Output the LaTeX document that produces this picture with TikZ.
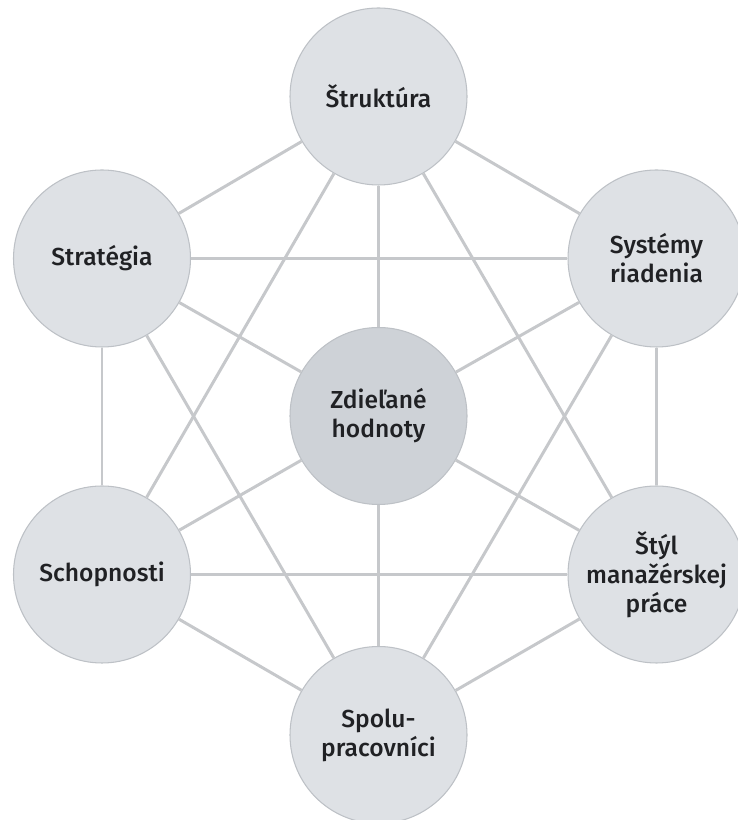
\documentclass[tikz,border=0pt]{standalone}
\usepackage{fontspec}
\setmainfont{Fira Sans Medium}
\definecolor{circfill}{HTML}{DEE1E5}
\definecolor{corefill}{HTML}{CED2D7}
\definecolor{circline}{HTML}{BDC1C6}
\definecolor{linkgray}{HTML}{C6C8CB}
\definecolor{txt}{HTML}{202124}
\tikzstyle{s} = [circle, draw=circline, fill=circfill, line width=0.6pt, minimum size=3.54cm, inner sep=0pt, align=center, text=txt, font=\fontsize{14}{16.5}\selectfont]
\tikzstyle{link} = [draw=linkgray, line width=1.7pt]

\begin{document}
\begin{tikzpicture}[x=2cm,y=2cm]
\useasboundingbox (0,0) rectangle (7.37,8.20);
\node [s, fill=corefill] (z) at (3.785,4.04) {Zdieľané\\hodnoty};
\node [s] (str) at (3.785,7.235) {Štruktúra};
\node [s] (stg) at (1.02,5.615) {Stratégia};
\node [s] (sys) at (6.565,5.615) {Systémy\\riadenia};
\node [s] (sch) at (1.02,2.455) {Schopnosti};
\node [s] (sty) at (6.565,2.455) {Štýl\\manažérskej\\práce};
\node [s] (spo) at (3.785,0.85) {Spolu-\\pracovníci};
% spokes
\draw [link] (z) -- (str);
\draw [link] (z) -- (stg);
\draw [link] (z) -- (sys);
\draw [link] (z) -- (sch);
\draw [link] (z) -- (sty);
\draw [link] (z) -- (spo);
% outer ring
\draw [link] (str) -- (stg);
\draw [link] (str) -- (sys);
\draw [link] (stg) -- (sch);
\draw [link] (sys) -- (sty);
\draw [link] (sch) -- (spo);
\draw [link] (sty) -- (spo);
% chords
\draw [link] (str) -- (sch);
\draw [link] (str) -- (sty);
\draw [link] (stg) -- (sys);
\draw [link] (stg) -- (spo);
\draw [link] (sys) -- (spo);
\draw [link] (sch) -- (sty);
\end{tikzpicture}
\end{document}
